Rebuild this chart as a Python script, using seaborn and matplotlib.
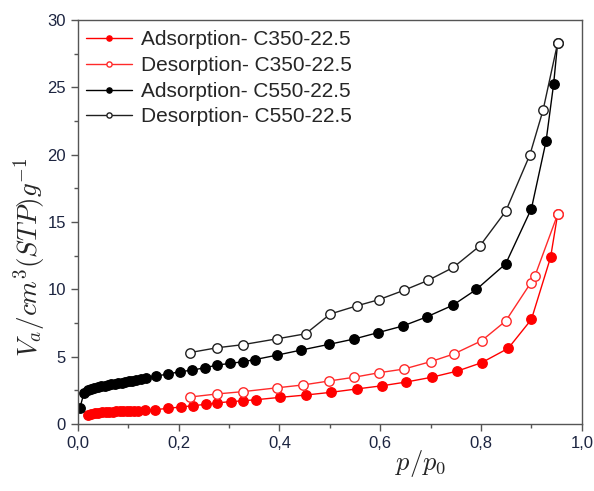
import matplotlib
matplotlib.use("Agg")
import matplotlib.pyplot as plt
from matplotlib.ticker import MultipleLocator, FuncFormatter
import seaborn as sns
import pandas as pd

# C350-22.5 adsorption
p_ads_350 = [0.020, 0.027, 0.034, 0.041, 0.048, 0.055, 0.062, 0.069, 0.076, 0.083,
             0.090, 0.097, 0.104, 0.112, 0.120, 0.133, 0.153, 0.178, 0.204, 0.229,
             0.254, 0.277, 0.303, 0.327, 0.353, 0.402, 0.452, 0.502, 0.553, 0.604,
             0.652, 0.702, 0.753, 0.801, 0.854, 0.900, 0.938, 0.952]
v_ads_350 = [0.67, 0.76, 0.80, 0.83, 0.86, 0.88, 0.90, 0.92, 0.93, 0.94,
             0.95, 0.96, 0.97, 0.98, 0.99, 1.01, 1.06, 1.16, 1.26, 1.36,
             1.46, 1.57, 1.66, 1.72, 1.80, 1.98, 2.15, 2.35, 2.60, 2.84,
             3.12, 3.47, 3.93, 4.55, 5.62, 7.77, 12.38, 15.57]

# C350-22.5 desorption
p_des_350 = [0.222, 0.276, 0.327, 0.396, 0.447, 0.498, 0.548, 0.598, 0.647, 0.700,
             0.746, 0.801, 0.849, 0.899, 0.907, 0.952]
v_des_350 = [2.00, 2.23, 2.40, 2.69, 2.90, 3.19, 3.47, 3.81, 4.08, 4.63,
             5.20, 6.18, 7.65, 10.50, 11.00, 15.57]

# C550-22.5 adsorption
p_ads_550 = [0.004, 0.012, 0.020, 0.027, 0.033, 0.040, 0.046, 0.053, 0.060, 0.066,
             0.073, 0.080, 0.087, 0.094, 0.101, 0.108, 0.116, 0.126, 0.136, 0.155,
             0.179, 0.202, 0.227, 0.252, 0.277, 0.302, 0.327, 0.351, 0.396, 0.443,
             0.499, 0.548, 0.595, 0.645, 0.692, 0.744, 0.791, 0.849, 0.900, 0.929,
             0.944, 0.952]
v_ads_550 = [1.17, 2.28, 2.50, 2.60, 2.67, 2.73, 2.79, 2.85, 2.90, 2.95,
             3.00, 3.04, 3.08, 3.12, 3.16, 3.20, 3.26, 3.33, 3.42, 3.56,
             3.71, 3.88, 4.00, 4.18, 4.38, 4.50, 4.62, 4.78, 5.12, 5.49,
             5.92, 6.31, 6.78, 7.28, 7.95, 8.82, 10.00, 11.90, 16.00, 21.00,
             25.24, 28.30]

# C550-22.5 desorption
p_des_550 = [0.222, 0.276, 0.327, 0.396, 0.452, 0.501, 0.553, 0.597, 0.647, 0.695,
             0.745, 0.798, 0.849, 0.897, 0.923, 0.952]
v_des_550 = [5.30, 5.66, 5.89, 6.33, 6.70, 8.17, 8.77, 9.23, 9.93, 10.67,
             11.63, 13.24, 15.80, 20.00, 23.30, 28.30]

labels = ["Adsorption- C350-22.5", "Desorption- C350-22.5",
          "Adsorption- C550-22.5", "Desorption- C550-22.5"]

sns.set_style("ticks")
plt.rcParams["font.family"] = ["Liberation Sans", "DejaVu Sans"]
plt.rcParams["mathtext.fontset"] = "cm"

fig = plt.figure(figsize=(5.94, 4.91), dpi=100)
ax = fig.add_axes([0.131, 0.1365, 0.8485, 0.8225])

series = [
    (p_ads_350, v_ads_350, labels[0], "#ff0000", "#ff0000"),
    (p_des_350, v_des_350, labels[1], "#ff2a2a", "white"),
    (p_ads_550, v_ads_550, labels[2], "#000000", "#000000"),
    (p_des_550, v_des_550, labels[3], "#202020", "white"),
]
for px, vy, lab, col, face in series:
    df = pd.DataFrame({"p": px, "v": vy})
    sns.lineplot(data=df, x="p", y="v", ax=ax, sort=False, estimator=None,
                 color=col, marker="o", markersize=6.8, linewidth=1.0,
                 markerfacecolor=face, markeredgecolor=col, markeredgewidth=1.0,
                 label=lab)

ax.set_xlim(0, 1.0)
ax.set_ylim(0, 30)
ax.xaxis.set_major_locator(MultipleLocator(0.2))
ax.xaxis.set_minor_locator(MultipleLocator(0.1))
ax.yaxis.set_major_locator(MultipleLocator(5))
ax.yaxis.set_minor_locator(MultipleLocator(2.5))
ax.xaxis.set_major_formatter(FuncFormatter(lambda v, _: f"{v:.1f}".replace(".", ",")))
ax.yaxis.set_major_formatter(FuncFormatter(lambda v, _: f"{v:.0f}"))
ax.tick_params(axis="both", which="major", direction="out", length=5, width=1,
               labelsize=12, labelcolor="#1c2440", color="#555555")
ax.tick_params(axis="both", which="minor", direction="out", length=3, width=1,
               color="#555555")
for s in ax.spines.values():
    s.set_visible(True)
    s.set_color("#555555")
    s.set_linewidth(1.0)

ax.set_xlabel(r"$p/p_0$", fontsize=19, labelpad=2)
ax.xaxis.set_label_coords(0.68, -0.06)
ax.set_ylabel(r"$V_a/cm^3(STP)g^{-1}$", fontsize=19.5, labelpad=2)
ax.yaxis.set_label_coords(-0.06, 0.413)

leg = ax.legend(loc="upper left", bbox_to_anchor=(0.0, 0.995), frameon=False,
                fontsize=15, handlelength=2.2, markerscale=0.55,
                labelspacing=0.32, borderaxespad=0.25,
                handletextpad=0.45, borderpad=0.15)

fig.savefig("out.png", dpi=100)
